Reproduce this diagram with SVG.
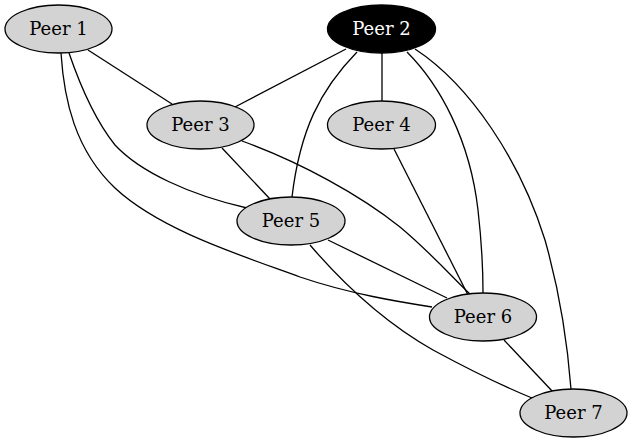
<svg xmlns="http://www.w3.org/2000/svg" width="633" height="443" viewBox="0 0 633 443">
<style>
.node ellipse{fill:#d3d3d3;stroke:#000;stroke-width:1.3}
.node text{font-family:"DejaVu Serif",serif;font-size:18px;fill:#000;text-anchor:middle}
#peer2 ellipse{fill:#000}
#peer2 text{fill:#fff}
.edges path{fill:none;stroke:#000;stroke-width:1.3}
</style>
<rect width="633" height="443" fill="#fff"/>
<g class="edges">
<path d="M88,50 L172,104"/>
<path d="M69,53 C80,85 95,120 115,145 C140,172 190,195 247,208"/>
<path d="M61,53 C64,100 75,150 115,188 C160,230 240,255 300,277 C350,294 400,302 432,307"/>
<path d="M346,49 L235,107"/>
<path d="M357,52 C320,90 300,130 292,197"/>
<path d="M382,53 L382,101"/>
<path d="M407,52 C440,85 470,140 478,210 C482,245 483,270 483,293"/>
<path d="M415,49 C470,85 520,160 545,240 C562,300 568,350 571,389"/>
<path d="M222,148 L270,199"/>
<path d="M242,141 C300,162 360,195 400,227 C430,252 455,280 470,294"/>
<path d="M394,149 L468,295"/>
<path d="M328,240 L447,298"/>
<path d="M310,245 C340,280 380,320 433,350 C470,370 500,385 532,398"/>
<path d="M504,340 L553,392"/>
</g>
<g id="peer1" class="node"><ellipse cx="58.5" cy="29" rx="53.5" ry="24"/><text x="58.5" y="34.5">Peer 1</text></g>
<g id="peer2" class="node"><ellipse cx="381.5" cy="29" rx="54" ry="24"/><text x="381.5" y="34.5">Peer 2</text></g>
<g id="peer3" class="node"><ellipse cx="200.5" cy="125" rx="53.5" ry="24"/><text x="200.5" y="130.5">Peer 3</text></g>
<g id="peer4" class="node"><ellipse cx="381.5" cy="125" rx="54" ry="24"/><text x="381.5" y="130.5">Peer 4</text></g>
<g id="peer5" class="node"><ellipse cx="291" cy="221" rx="54" ry="24"/><text x="291" y="226.5">Peer 5</text></g>
<g id="peer6" class="node"><ellipse cx="483" cy="317" rx="53.5" ry="24"/><text x="483" y="322.5">Peer 6</text></g>
<g id="peer7" class="node"><ellipse cx="573.5" cy="413" rx="53.5" ry="24"/><text x="573.5" y="418.5">Peer 7</text></g>
</svg>
